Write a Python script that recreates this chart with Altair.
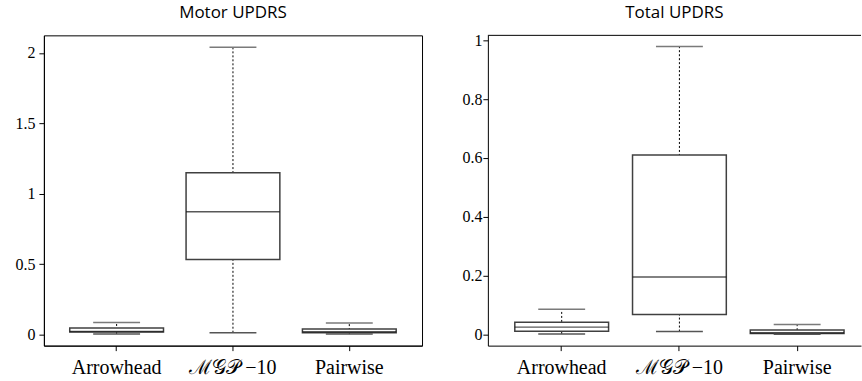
import altair as alt
import pandas as pd

methods = ["Arrowhead", "ℳ𝒢𝒫 −10", "Pairwise"]

motor_min = [0.003, 0.012, 0.002]
motor_q1 = [0.017, 0.532, 0.012]
motor_med = [0.020, 0.872, 0.018]
motor_q3 = [0.045, 1.149, 0.038]
motor_max = [0.085, 2.040, 0.081]

total_min = [0.001, 0.009, 0.000]
total_q1 = [0.010, 0.067, 0.002]
total_med = [0.024, 0.195, 0.005]
total_q3 = [0.041, 0.610, 0.014]
total_max = [0.085, 0.979, 0.033]

SERIF = "Liberation Serif"


def panel(title, mins, q1s, meds, q3s, maxs, ydom, yticks, width, x_pad, x_align, framed, t_off, lab_pad):
    df = pd.DataFrame({"method": methods, "lo": mins, "q1": q1s, "med": meds, "q3": q3s, "hi": maxs})
    base = alt.Chart(df)
    xenc = alt.X(
        "method:N",
        sort=methods,
        scale=alt.Scale(type="band", paddingInner=0, paddingOuter=x_pad, align=x_align),
        axis=alt.Axis(
            title=None, labelAngle=0, labelFont=SERIF, labelFontSize=20, labelColor="black",
            tickColor="black", tickSize=5, domainColor="black", labelPadding=7, grid=False,
        ),
    )
    yscale = alt.Scale(domain=ydom, nice=False, zero=False)
    yaxis = alt.Axis(
        title=None, values=yticks, format="~g", labelFont=SERIF, labelFontSize=16,
        labelColor="black", tickColor="black", tickSize=5, domainColor="black",
        labelPadding=lab_pad, grid=False, minExtent=38, maxExtent=38,
    )
    whisk = base.mark_rule(color="black", strokeWidth=1, strokeDash=[2, 2]).encode(
        x=xenc, y=alt.Y("lo:Q", scale=yscale, axis=yaxis), y2="hi:Q"
    )
    box = base.mark_bar(size=94, fill="white", stroke="#404040", strokeWidth=1.5).encode(
        x=xenc, y="q1:Q", y2="q3:Q"
    )
    med = base.mark_tick(size=94, thickness=1.5, color="#111111").encode(x=xenc, y="med:Q")
    cap_hi = base.mark_tick(size=47, thickness=1.5, color="#7a7a7a", opacity=1).encode(x=xenc, y="hi:Q")
    cap_lo = base.mark_tick(size=47, thickness=1.5, color="#555555", opacity=1).encode(x=xenc, y="lo:Q")
    layers = [whisk, box, med, cap_hi, cap_lo]
    if not framed:
        top = alt.Chart(pd.DataFrame({"t": [ydom[1]]})).mark_rule(color="black", strokeWidth=1).encode(
            y=alt.Y("t:Q", scale=yscale)
        )
        layers.append(top)
    ch = alt.layer(*layers).properties(
        width=width, height=311,
        title=alt.TitleParams(
            title, font="Open Sans", fontSize=17, fontWeight="normal", color="black",
            anchor="middle", baseline="bottom", offset=t_off,
        ),
    )
    if framed:
        ch = ch.properties(view=alt.ViewConfig(stroke="black", strokeWidth=1))
    else:
        ch = ch.properties(view=alt.ViewConfig(stroke=None))
    return ch


left = panel("Motor UPDRS", motor_min, motor_q1, motor_med, motor_q3, motor_max,
             [-0.08, 2.125], [0, 0.5, 1, 1.5, 2], 379, 0.125, 0.5, True, -4, 4)
right = panel("Total UPDRS", total_min, total_q1, total_med, total_q3, total_max,
              [-0.039, 1.017], [0, 0.2, 0.4, 0.6, 0.8, 1], 374, 0.0847, 0.75, False, -7, 1)

chart = alt.hconcat(left, right, spacing=27).properties(
    padding={"left": 5, "top": 3, "right": 0, "bottom": 0},
    background="white",
).configure_view(stroke="black")

chart.save("out.html", embed_options={"renderer": "svg", "actions": False})
